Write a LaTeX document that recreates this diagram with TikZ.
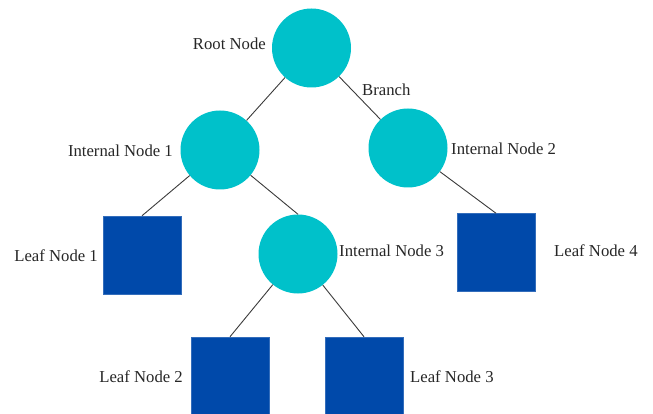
\documentclass[tikz,border=0pt]{standalone}
\usepackage{fontspec}
\setmainfont{Liberation Serif}
\definecolor{tealc}{HTML}{00C1CA}
\definecolor{leafc}{HTML}{0049AA}
\definecolor{edgec}{HTML}{3A3A3A}
\begin{document}
\begin{tikzpicture}[x=1pt,y=-1pt,
  inode/.style={circle,fill=tealc,draw=none,minimum size=79pt,inner sep=0pt},
  leaf/.style={rectangle,fill=leafc,draw=leafc!80!white,line width=0.5pt,minimum size=78pt,inner sep=0pt},
  lbl/.style={font=\fontsize{16.7}{20}\selectfont,inner sep=0pt,text=black!85},
  edge/.style={draw=edgec,line width=0.9pt}]
\useasboundingbox (0,0) rectangle (653,414);
\node[inode] (root) at (311.5,48) {};
\node[inode] (in1) at (220,150) {};
\node[inode] (in2) at (408,148) {};
\node[inode] (in3) at (298,254) {};
\node[leaf] (l1) at (142,255) {};
\node[leaf] (l4) at (496,252.5) {};
\node[leaf] (l2) at (230,376) {};
\node[leaf] (l3) at (364,376) {};
\draw[edge] (root) -- (in1);
\draw[edge] (root) -- (in2);
\draw[edge] (in1) -- (l1.north);
\draw[edge] (in1) -- (in3.north);
\draw[edge] (in2) -- (l4.north);
\draw[edge] (in3) -- (l2.north);
\draw[edge] (in3) -- (l3.north);
\node[lbl,anchor=east] (tr) at (266,44) {Root Node};
\node[lbl,anchor=west] (tb) at (362,90) {Branch};
\node[lbl,anchor=east] (t1) at (173,151) {Internal Node 1};
\node[lbl,anchor=west] (t2) at (451,149) {Internal Node 2};
\node[lbl,anchor=west] (t3) at (339,251) {Internal Node 3};
\node[lbl,anchor=east] (tl1) at (98,256) {Leaf Node 1};
\node[lbl,anchor=west] (tl4) at (554,251) {Leaf Node 4};
\node[lbl,anchor=east] (tl2) at (183,377) {Leaf Node 2};
\node[lbl,anchor=west] (tl3) at (410,377) {Leaf Node 3};
\end{tikzpicture}
\end{document}
